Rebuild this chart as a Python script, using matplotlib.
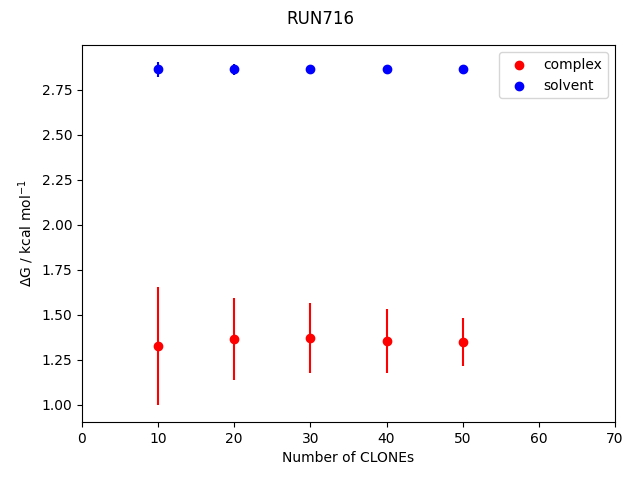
import matplotlib
matplotlib.use('Agg')
import matplotlib.pyplot as plt

# Nombre de CLONEs
clones = [10, 20, 30, 40, 50]

# complex
complex_dg = [1.328, 1.366, 1.370, 1.355, 1.348]
complex_err = [0.328, 0.226, 0.195, 0.178, 0.132]

# solvent
solvent_dg = [2.862, 2.862, 2.862, 2.866, 2.866]
solvent_err = [0.040, 0.030, 0.010, 0.008, 0.008]

fig = plt.figure(figsize=(6.4, 4.8))
plt.errorbar(clones, complex_dg, yerr=complex_err, fmt='none', ecolor='red')
plt.scatter(clones, complex_dg, color='red', label='complex')
plt.errorbar(clones, solvent_dg, yerr=solvent_err, fmt='none', ecolor='blue')
plt.scatter(clones, solvent_dg, color='blue', label='solvent')

fig.suptitle("RUN716")
plt.xlabel("Number of CLONEs")
plt.ylabel(r"$\Delta$G / kcal mol$^{-1}$")
plt.xlim(0, 70)
plt.legend()
plt.subplots_adjust(left=0.128, right=0.961, bottom=0.121, top=0.906)
plt.savefig('out.png', dpi=100)
